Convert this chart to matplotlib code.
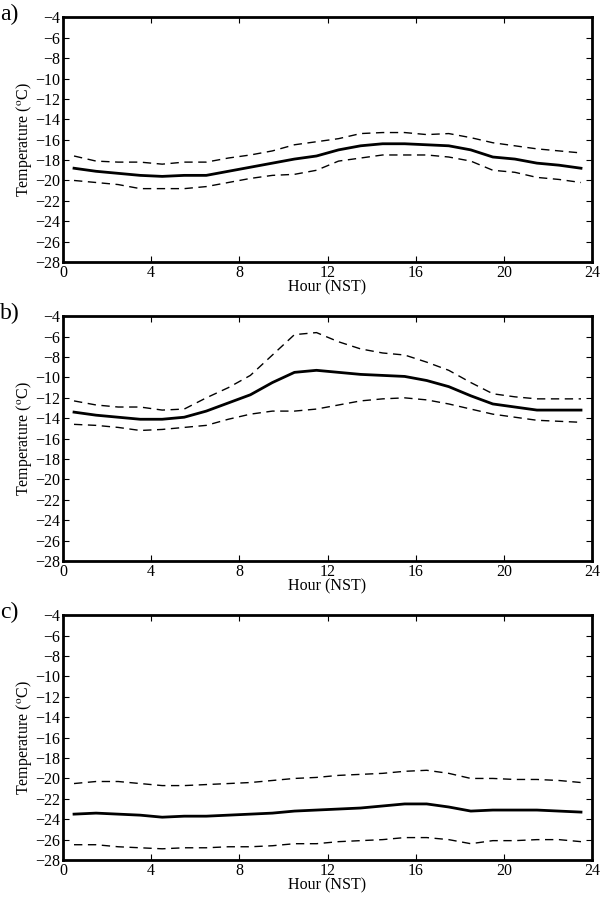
import matplotlib
matplotlib.use("Agg")
import matplotlib.pyplot as plt

plt.rcParams['font.family'] = ['Liberation Serif', 'DejaVu Serif']
plt.rcParams['mathtext.fontset'] = 'stix'

hours = [h + 0.5 for h in range(24)]

# panel a
mean_a = [-18.8, -19.1, -19.3, -19.5, -19.6, -19.5, -19.5, -19.1, -18.7, -18.3, -17.9, -17.6,
          -17.0, -16.6, -16.4, -16.4, -16.5, -16.6, -17.0, -17.7, -17.9, -18.3, -18.5, -18.8]
upper_a = [-17.6, -18.1, -18.2, -18.2, -18.4, -18.2, -18.2, -17.8, -17.5, -17.1, -16.5, -16.2,
           -15.9, -15.4, -15.3, -15.3, -15.5, -15.4, -15.8, -16.3, -16.6, -16.9, -17.1, -17.3]
lower_a = [-20.0, -20.2, -20.4, -20.8, -20.8, -20.8, -20.6, -20.2, -19.8, -19.5, -19.4, -19.0,
           -18.1, -17.8, -17.5, -17.5, -17.5, -17.7, -18.1, -19.0, -19.2, -19.7, -19.9, -20.2]

# panel b
mean_b = [-13.4, -13.7, -13.9, -14.1, -14.1, -13.9, -13.3, -12.5, -11.7, -10.5, -9.5, -9.3,
          -9.5, -9.7, -9.8, -9.9, -10.3, -10.9, -11.8, -12.6, -12.9, -13.2, -13.2, -13.2]
upper_b = [-12.3, -12.7, -12.9, -12.9, -13.2, -13.1, -12.0, -11.0, -9.8, -7.8, -5.8, -5.6,
           -6.5, -7.2, -7.6, -7.8, -8.5, -9.3, -10.5, -11.6, -11.9, -12.1, -12.1, -12.1]
lower_b = [-14.6, -14.7, -14.9, -15.2, -15.1, -14.9, -14.7, -14.1, -13.6, -13.3, -13.3, -13.1,
           -12.7, -12.3, -12.1, -12.0, -12.2, -12.6, -13.1, -13.6, -13.9, -14.2, -14.3, -14.4]

# panel c
mean_c = [-23.5, -23.4, -23.5, -23.6, -23.8, -23.7, -23.7, -23.6, -23.5, -23.4, -23.2, -23.1,
          -23.0, -22.9, -22.7, -22.5, -22.5, -22.8, -23.2, -23.1, -23.1, -23.1, -23.2, -23.3]
upper_c = [-20.5, -20.3, -20.3, -20.5, -20.7, -20.7, -20.6, -20.5, -20.4, -20.2, -20.0, -19.9,
           -19.7, -19.6, -19.5, -19.3, -19.2, -19.5, -20.0, -20.0, -20.1, -20.1, -20.2, -20.4]
lower_c = [-26.5, -26.5, -26.7, -26.8, -26.9, -26.8, -26.8, -26.7, -26.7, -26.6, -26.4, -26.4,
           -26.2, -26.1, -26.0, -25.8, -25.8, -26.0, -26.4, -26.1, -26.1, -26.0, -26.0, -26.2]

panels = [
    ("a)", mean_a, upper_a, lower_a, 0.7082),
    ("b)", mean_b, upper_b, lower_b, 0.3753),
    ("c)", mean_c, upper_c, lower_c, 0.0423),
]

fig = plt.figure(figsize=(6, 8.98), dpi=100)

for label, mean, upper, lower, bottom in panels:
    ax = fig.add_axes([0.105, bottom, 0.8817, 0.2725])
    ax.plot(hours, mean, color='black', lw=2)
    ax.plot(hours, upper, color='black', lw=1, ls=(0, (6, 4)))
    ax.plot(hours, lower, color='black', lw=1, ls=(0, (6, 4)))
    ax.set_xlim(0, 24)
    ax.set_ylim(-28, -4)
    ax.set_xticks(range(0, 25, 4))
    ax.set_yticks(range(-28, -3, 2))
    ax.tick_params(direction='in', top=True, right=True, labelsize=11.5,
                   length=4, width=0.8, pad=2)
    for s in ax.spines.values():
        s.set_linewidth(2)
    ax.set_xlabel("Hour (NST)", fontsize=11.5, labelpad=-1)
    ax.set_ylabel(r"Temperature ($^\mathrm{o}$C)", fontsize=11.5, labelpad=1)
    fig.text(0.0, bottom + 0.2725 + 0.003, label, fontsize=17, ha='left', va='center')

fig.savefig("out.png", dpi=100)
